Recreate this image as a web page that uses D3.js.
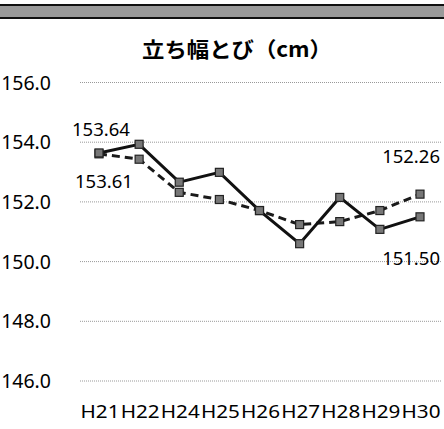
<!DOCTYPE html>
<html>
<head>
<meta charset="utf-8">
<script src="https://cdn.jsdelivr.net/npm/d3@7"></script>
<style>
  body { margin: 0; background: #fff; }
  svg { display: block; }
</style>
</head>
<body>
<script>
const svgWidth = 444
const svgHeight = 429

const years = ["H21", "H22", "H24", "H25", "H26", "H27", "H28", "H29", "H30"]
const solidValues = [153.64, 153.93, 152.66, 152.99, 151.71, 150.60, 152.15, 151.08, 151.50]
const dashedValues = [153.61, 153.43, 152.32, 152.08, 151.71, 151.24, 151.34, 151.71, 152.26]
const yTicks = [146, 148, 150, 152, 154, 156]

const svg = d3.select("body").append("svg")
  .attr("width", svgWidth)
  .attr("height", svgHeight)

// grey band along the top
svg.append("rect")
  .attr("x", -2).attr("y", 5)
  .attr("width", svgWidth + 4).attr("height", 13)
  .attr("fill", "#9a9a9a")
  .attr("stroke", "#111")
  .attr("stroke-width", 2)

svg.append("text")
  .attr("x", 142).attr("y", 57)
  .attr("textLength", 190)
  .attr("lengthAdjust", "spacingAndGlyphs")
  .attr("font-family", "Noto Sans CJK JP")
  .attr("font-weight", "bold")
  .attr("font-size", 21)
  .attr("fill", "#000")
  .text("立ち幅とび（cm）")

const x = d3.scalePoint()
  .domain(years)
  .range([99, 420])

const y = d3.scaleLinear()
  .domain([146, 156])
  .range([381, 82.5])

// gridlines
svg.append("g")
  .selectAll("line")
  .data(yTicks)
  .enter()
  .append("line")
  .attr("x1", 80).attr("x2", 442)
  .attr("y1", d => y(d)).attr("y2", d => y(d))
  .attr("stroke", "#999")
  .attr("stroke-width", 1)
  .attr("stroke-dasharray", "1,1")

// y labels
svg.append("g")
  .selectAll("text")
  .data(yTicks)
  .enter()
  .append("text")
  .attr("x", 51)
  .attr("y", d => y(d))
  .attr("dy", "0.36em")
  .attr("text-anchor", "end")
  .attr("font-family", "Noto Sans")
  .attr("font-size", 19.5)
  .attr("fill", "#000")
  .text(d => d.toFixed(1))

// x labels
svg.append("g")
  .selectAll("text")
  .data(years)
  .enter()
  .append("text")
  .attr("x", d => x(d) - 18.5)
  .attr("y", 418)
  .attr("textLength", 39)
  .attr("lengthAdjust", "spacingAndGlyphs")
  .attr("font-family", "Noto Sans")
  .attr("font-size", 18)
  .attr("fill", "#000")
  .text(d => d)

const line = d3.line()
  .x((d, i) => x(years[i]))
  .y(d => y(d))

svg.append("path")
  .attr("d", line(dashedValues))
  .attr("fill", "none")
  .attr("stroke", "#1a1a1a")
  .attr("stroke-width", 3)
  .attr("stroke-dasharray", "8,5")

svg.append("path")
  .attr("d", line(solidValues))
  .attr("fill", "none")
  .attr("stroke", "#111")
  .attr("stroke-width", 3)

function markers(values) {
  svg.append("g")
    .selectAll("rect")
    .data(values)
    .enter()
    .append("rect")
    .attr("x", (d, i) => x(years[i]) - 4)
    .attr("y", d => y(d) - 4)
    .attr("width", 8).attr("height", 8)
    .attr("fill", "#777")
    .attr("stroke", "#222")
    .attr("stroke-width", 1.2)
}
markers(dashedValues)
markers(solidValues)

// data labels for first and last points
const labelStyle = sel => sel
  .attr("font-family", "Noto Sans")
  .attr("font-size", 18.5)
  .attr("fill", "#000")

svg.append("text").call(labelStyle)
  .attr("x", 72).attr("y", y(solidValues[0]) - 17)
  .text(solidValues[0].toFixed(2))

svg.append("text").call(labelStyle)
  .attr("x", 75).attr("y", y(dashedValues[0]) + 34)
  .text(dashedValues[0].toFixed(2))

svg.append("text").call(labelStyle)
  .attr("x", 440).attr("y", y(dashedValues[8]) - 31)
  .attr("text-anchor", "end")
  .text(dashedValues[8].toFixed(2))

svg.append("text").call(labelStyle)
  .attr("x", 440).attr("y", y(solidValues[8]) + 48)
  .attr("text-anchor", "end")
  .text(solidValues[8].toFixed(2))
</script>
</body>
</html>
